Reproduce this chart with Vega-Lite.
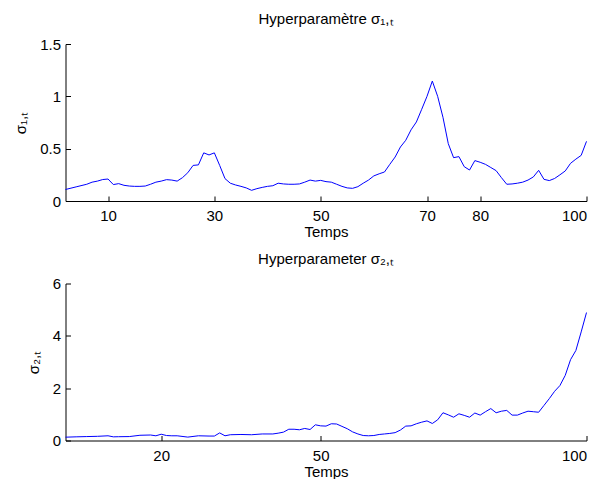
{
  "$schema": "https://vega.github.io/schema/vega-lite/v6.json",
  "padding": {"left": 13.5, "top": 12, "right": 5, "bottom": 0},
  "spacing": 11.5,
  "config": {
    "font": "Liberation Sans",
    "view": {"stroke": null},
    "axis": {"domainColor": "#000", "tickColor": "#000", "labelColor": "#000", "titleColor": "#000", "labelFontSize": 15, "titleFontSize": 15, "titleFontWeight": "normal", "grid": false, "tickSize": -5, "labelFont": "Liberation Sans", "titleFont": "Liberation Sans"},
    "axisX": {"labelPadding": 12.5, "titlePadding": 1},
    "axisY": {"labelPadding": 10, "titlePadding": 11},
    "title": {"fontSize": 15, "fontWeight": "normal", "color": "#000", "font": "Liberation Sans", "offset": 10}
  },
  "datasets": {
    "s1": [
      {"t":2,"v":0.11},{"t":4,"v":0.135},{"t":6,"v":0.16},{"t":7,"v":0.18},{"t":8,"v":0.19},{"t":9,"v":0.205},{"t":10,"v":0.21},{"t":11,"v":0.157},{"t":12,"v":0.166},{"t":13,"v":0.15},{"t":14,"v":0.143},{"t":15,"v":0.14},{"t":16,"v":0.14},{"t":17,"v":0.143},{"t":18,"v":0.16},{"t":19,"v":0.18},{"t":20,"v":0.19},{"t":21,"v":0.204},{"t":22,"v":0.2},{"t":23,"v":0.19},{"t":24,"v":0.223},{"t":25,"v":0.27},{"t":26,"v":0.34},{"t":27,"v":0.345},{"t":28,"v":0.46},{"t":29,"v":0.44},{"t":30,"v":0.46},{"t":31,"v":0.34},{"t":32,"v":0.214},{"t":33,"v":0.17},{"t":34,"v":0.153},{"t":35,"v":0.14},{"t":36,"v":0.125},{"t":37,"v":0.102},{"t":38,"v":0.118},{"t":39,"v":0.13},{"t":40,"v":0.14},{"t":41,"v":0.146},{"t":42,"v":0.17},{"t":43,"v":0.163},{"t":44,"v":0.16},{"t":45,"v":0.16},{"t":46,"v":0.163},{"t":47,"v":0.18},{"t":48,"v":0.2},{"t":49,"v":0.19},{"t":50,"v":0.197},{"t":51,"v":0.185},{"t":52,"v":0.18},{"t":53,"v":0.16},{"t":54,"v":0.14},{"t":55,"v":0.125},{"t":56,"v":0.121},{"t":57,"v":0.137},{"t":58,"v":0.17},{"t":59,"v":0.2},{"t":60,"v":0.24},{"t":61,"v":0.26},{"t":62,"v":0.277},{"t":63,"v":0.35},{"t":64,"v":0.42},{"t":65,"v":0.516},{"t":66,"v":0.58},{"t":67,"v":0.68},{"t":68,"v":0.755},{"t":69,"v":0.876},{"t":70,"v":1.0},{"t":71,"v":1.146},{"t":72,"v":1.0},{"t":73,"v":0.8},{"t":74,"v":0.548},{"t":75,"v":0.414},{"t":76,"v":0.424},{"t":77,"v":0.328},{"t":78,"v":0.296},{"t":79,"v":0.386},{"t":80,"v":0.37},{"t":81,"v":0.35},{"t":82,"v":0.32},{"t":83,"v":0.29},{"t":84,"v":0.223},{"t":85,"v":0.16},{"t":86,"v":0.163},{"t":87,"v":0.17},{"t":88,"v":0.18},{"t":89,"v":0.2},{"t":90,"v":0.23},{"t":91,"v":0.293},{"t":92,"v":0.207},{"t":93,"v":0.195},{"t":94,"v":0.215},{"t":95,"v":0.25},{"t":96,"v":0.287},{"t":97,"v":0.36},{"t":98,"v":0.4},{"t":99,"v":0.436},{"t":100,"v":0.57}
    ],
    "s2": [
      {"t":2,"v":0.127},{"t":4,"v":0.14},{"t":6,"v":0.15},{"t":8,"v":0.16},{"t":10,"v":0.18},{"t":11,"v":0.14},{"t":12,"v":0.145},{"t":14,"v":0.15},{"t":16,"v":0.2},{"t":18,"v":0.21},{"t":19,"v":0.18},{"t":20,"v":0.24},{"t":21,"v":0.19},{"t":22,"v":0.18},{"t":23,"v":0.18},{"t":25,"v":0.13},{"t":27,"v":0.18},{"t":29,"v":0.17},{"t":30,"v":0.17},{"t":31,"v":0.29},{"t":32,"v":0.18},{"t":33,"v":0.22},{"t":35,"v":0.23},{"t":37,"v":0.22},{"t":39,"v":0.25},{"t":41,"v":0.25},{"t":42,"v":0.28},{"t":43,"v":0.32},{"t":44,"v":0.43},{"t":45,"v":0.43},{"t":46,"v":0.41},{"t":47,"v":0.46},{"t":48,"v":0.42},{"t":49,"v":0.6},{"t":50,"v":0.56},{"t":51,"v":0.55},{"t":52,"v":0.64},{"t":53,"v":0.63},{"t":54,"v":0.54},{"t":55,"v":0.45},{"t":56,"v":0.33},{"t":57,"v":0.25},{"t":58,"v":0.19},{"t":59,"v":0.18},{"t":60,"v":0.19},{"t":61,"v":0.23},{"t":62,"v":0.25},{"t":63,"v":0.27},{"t":64,"v":0.3},{"t":65,"v":0.4},{"t":66,"v":0.55},{"t":67,"v":0.56},{"t":68,"v":0.64},{"t":69,"v":0.7},{"t":70,"v":0.75},{"t":71,"v":0.65},{"t":72,"v":0.79},{"t":73,"v":1.06},{"t":74,"v":0.98},{"t":75,"v":0.89},{"t":76,"v":1.02},{"t":77,"v":0.96},{"t":78,"v":0.89},{"t":79,"v":1.05},{"t":80,"v":0.97},{"t":81,"v":1.1},{"t":82,"v":1.22},{"t":83,"v":1.06},{"t":84,"v":1.12},{"t":85,"v":1.15},{"t":86,"v":0.97},{"t":87,"v":0.97},{"t":88,"v":1.05},{"t":89,"v":1.12},{"t":90,"v":1.1},{"t":91,"v":1.08},{"t":92,"v":1.34},{"t":93,"v":1.6},{"t":94,"v":1.88},{"t":95,"v":2.1},{"t":96,"v":2.49},{"t":97,"v":3.09},{"t":98,"v":3.44},{"t":99,"v":4.15},{"t":100,"v":4.89}
    ]
  },
  "vconcat": [
    {
      "title": "Hyperparamètre σ₁,ₜ",
      "width": 521,
      "height": 157,
      "data": {"name": "s1"},
      "mark": {"type": "line", "color": "#0000ff", "strokeWidth": 1},
      "encoding": {
        "x": {"field": "t", "type": "quantitative", "scale": {"domain": [2, 100], "nice": false, "zero": false}, "axis": {"values": [10, 30, 50, 70, 80, 100], "title": "Temps"}},
        "y": {"field": "v", "type": "quantitative", "scale": {"domain": [0, 1.5], "nice": false}, "axis": {"values": [0, 0.5, 1, 1.5], "format": "~g", "title": "σ₁,ₜ"}}
      }
    },
    {
      "title": "Hyperparameter σ₂,ₜ",
      "width": 521,
      "height": 157,
      "data": {"name": "s2"},
      "mark": {"type": "line", "color": "#0000ff", "strokeWidth": 1},
      "encoding": {
        "x": {"field": "t", "type": "quantitative", "scale": {"domain": [2, 100], "nice": false, "zero": false}, "axis": {"values": [20, 50, 100], "title": "Temps"}},
        "y": {"field": "v", "type": "quantitative", "scale": {"domain": [0, 6], "nice": false}, "axis": {"values": [0, 2, 4, 6], "format": "~g", "title": "σ₂,ₜ"}}
      }
    }
  ]
}
